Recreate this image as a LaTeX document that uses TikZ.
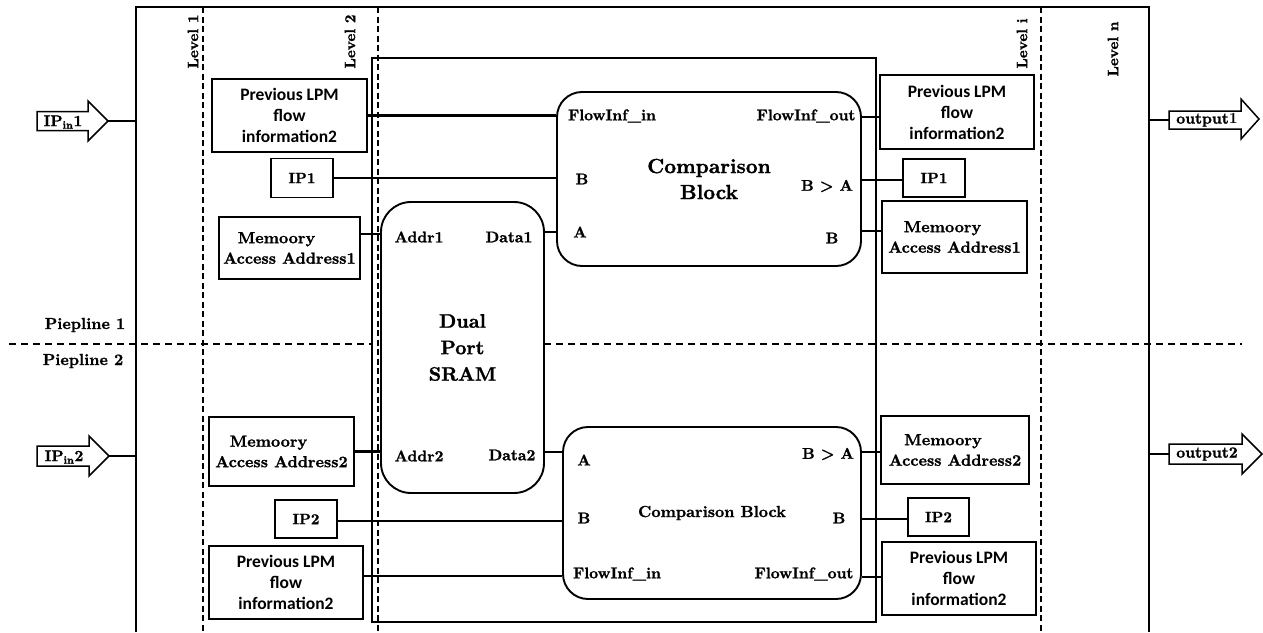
\documentclass[tikz,border=0pt]{standalone}
\usepackage{fontspec}
\newfontfamily\boxsans{Carlito}
\newfontfamily\srb{lmroman10-bold}[Extension=.otf, FakeBold=1.3]
\newfontfamily\srr{lmroman10-bold}[Extension=.otf]
\newcommand{\fsz}[2]{\fontsize{#1}{#2}\selectfont}
\begin{document}
\begin{tikzpicture}[x=1pt,y=-1pt,
  frame/.style={line width=1.4pt},
  levelline/.style={line width=2.6pt, dash pattern=on 6pt off 3.5pt},
  pipeline/.style={line width=1.3pt, dash pattern=on 7pt off 5pt},
  link/.style={line width=2.4pt},
  srbox/.style={draw, line width=1.5pt, inner sep=0pt, align=center, font=\srb\fsz{16}{20.5}},
  ipbox/.style={draw, line width=1.5pt, inner sep=0pt, align=center, font=\srb\fsz{15}{18}},
  sfbox/.style={draw, line width=1.5pt, inner sep=0pt, align=center, font=\boxsans\bfseries\fsz{17.5}{21}},
  blockbox/.style={draw, line width=1.9pt, rounded corners=25pt, inner sep=0pt, align=center},
  lab/.style={font=\srb\fsz{15.5}{19}, inner sep=0pt},
  levellab/.style={font=\srb\fsz{15}{18}, rotate=90, inner sep=0pt},
  bigarrow/.style={draw, line width=1.5pt, fill=white, line join=miter},
]
\useasboundingbox (0,0) rectangle (1263,632);

% outer frame (open at the bottom)
\draw[frame] (136,632) -- (136,7) -- (1149,7) -- (1149,632);
\coordinate (fl) at (136,7);
\coordinate (fr) at (1149,7);

% level separators
\draw[levelline] (203,7) -- (203,632);
\draw[levelline] (378,7) -- (378,632);
\draw[levelline] (1041,7) -- (1041,632);
\node[levellab] (lv1) at (193,41.5) {Level 1};
\node[levellab] (lv2) at (350,41.5) {Level 2};
\node[levellab] (lvi) at (1022,43.5) {Level i};
\node[levellab] (lvn) at (1113,49) {Level n};

% pipeline separator
\draw[pipeline] (9,344) -- (372,344);
\draw[pipeline] (544,344) -- (1242,344);
\node[lab, font=\srb\fsz{16}{19}] (pp1) at (85,325) {Piepline 1};
\node[lab, font=\srb\fsz{16}{19}] (pp2) at (83,361) {Piepline 2};

% stage container
\node[draw, frame, minimum width=504pt, minimum height=564pt, inner sep=0pt] (stage) at (624,340) {};

% dual port memory
\node[blockbox, rounded corners=30pt, minimum width=163pt, minimum height=291pt, fill=white,
      font=\srb\fsz{19.5}{26.5}] (sram) at (462.5,347.5) {Dual\\Port\\SRAM};
\node[lab] (addr1) at (419,237) {Addr1};
\node[lab] (data1) at (509,237) {Data1};
\node[lab] (addr2) at (419,456) {Addr2};
\node[lab] (data2) at (512,455) {Data2};

% comparison blocks
\node[blockbox, minimum width=304pt, minimum height=174pt,
      font=\srb\fsz{20.5}{26}] (cb1) at (709,179) {Comparison\\Block};
\node[lab] (c1fi) at (612,116) {FlowInf\_in};
\node[lab] (c1b) at (582,179) {B};
\node[lab] (c1a) at (580,232) {A};
\node[lab] (c1fo) at (806,116) {FlowInf\_out};
\node[lab] (c1g) at (827,186) {B > A};
\node[lab] (c1bo) at (832,238) {B};

\node[blockbox, minimum width=298pt, minimum height=172pt,
      font=\srb\fsz{16}{20}] (cb2) at (712,513) {Comparison Block};
\node[lab] (c2a) at (584,460) {A};
\node[lab] (c2b) at (584,518) {B};
\node[lab] (c2fi) at (617,574) {FlowInf\_in};
\node[lab] (c2g) at (828,454) {B > A};
\node[lab] (c2bo) at (839,518) {B};
\node[lab] (c2fo) at (804,574) {FlowInf\_out};

% input side boxes
\node[sfbox, minimum width=155pt, minimum height=73pt] (lp1) at (289.5,115.5) {Previous LPM\\flow\\information2};
\node[ipbox, minimum width=62pt, minimum height=39pt] (ip1l) at (302,178) {IP1};
\node[srbox, minimum width=141pt, minimum height=62pt] (mem1l) at (289.5,248) {Memoory\rule{26pt}{0pt}\\Access Address1};
\node[srbox, minimum width=145pt, minimum height=69pt] (mem2l) at (281.5,451.5) {Memoory\rule{26pt}{0pt}\\Access Address2};
\node[ipbox, minimum width=62pt, minimum height=38pt] (ip2l) at (306,519) {IP2};
\node[sfbox, minimum width=154pt, minimum height=73pt] (lp2) at (286,582.5) {Previous LPM\\flow\\information2};

% output side boxes
\node[sfbox, minimum width=154pt, minimum height=74pt] (rp1) at (957,112) {Previous LPM\\flow\\information2};
\node[ipbox, minimum width=62pt, minimum height=38pt] (ip1r) at (934,178) {IP1};
\node[srbox, minimum width=145pt, minimum height=72pt] (mem1r) at (954.5,237) {Memoory\rule{24pt}{0pt}\\Access Address1};
\node[srbox, minimum width=148pt, minimum height=68pt] (mem2r) at (955,450) {Memoory\rule{24pt}{0pt}\\Access Address2};
\node[ipbox, minimum width=61pt, minimum height=38pt] (ip2r) at (938.5,517) {IP2};
\node[sfbox, minimum width=154pt, minimum height=73pt] (rp2) at (959,578.5) {Previous LPM\\flow\\information2};

% links into the comparison blocks
\draw[link] (lp1.east) -- (lp1.east -| cb1.west);
\draw[link] (ip1l.east) -- (ip1l.east -| cb1.west);
\draw[link] ([yshift=14pt]mem1l.east) -- ([yshift=14pt]mem1l.east -| sram.west);
\draw[link] ([yshift=115.5pt]sram.east) -- ([yshift=115.5pt]sram.east -| cb1.west);
\draw[link] (mem2l.east) -- (mem2l.east -| sram.west);
\draw[link] ([yshift=-104.5pt]sram.east) -- ([yshift=-104.5pt]sram.east -| cb2.west);
\draw[link] ([yshift=-2pt]ip2l.east) -- ([yshift=-2pt]ip2l.east -| cb2.west);
\draw[link] ([yshift=6.5pt]lp2.east) -- ([yshift=6.5pt]lp2.east -| cb2.west);

% links out of the comparison blocks
\draw[link] ([yshift=-5pt]rp1.west) -- ([yshift=-5pt]rp1.west -| cb1.east);
\draw[link] ([yshift=-2pt]ip1r.west) -- ([yshift=-2pt]ip1r.west -| cb1.east);
\draw[link] ([yshift=6pt]mem1r.west) -- ([yshift=6pt]mem1r.west -| cb1.east);
\draw[link] ([yshift=-2pt]mem2r.west) -- ([yshift=-2pt]mem2r.west -| cb2.east);
\draw[link] ([yshift=-2pt]ip2r.west) -- ([yshift=-2pt]ip2r.west -| cb2.east);
\draw[link] ([yshift=1.5pt]rp2.west) -- ([yshift=1.5pt]rp2.west -| cb2.east);

% input arrows
\draw[bigarrow] (37,111.5) -- (88,111.5) -- (88,101) -- (108,121) -- (88,141) -- (88,130.5) -- (37,130.5) -- cycle;
\coordinate (in1tip) at (108,121);
\node[lab] (in1) at (63,122) {IP\textsubscript{in}1};
\draw[link] (in1tip) -- (in1tip -| fl);

\draw[bigarrow] (37,446) -- (89,446) -- (89,436) -- (109,456) -- (89,476) -- (89,466) -- (37,466) -- cycle;
\coordinate (in2tip) at (109,456);
\node[lab] (in2) at (64,457) {IP\textsubscript{in}2};
\draw[link] (in2tip) -- (in2tip -| fl);

% output arrows
\draw[bigarrow] (1169,111) -- (1241,111) -- (1241,99) -- (1259,119) -- (1241,139) -- (1241,129) -- (1169,129) -- cycle;
\coordinate (out1tail) at (1169,120);
\node[lab] (out1) at (1207,120) {output{\srr 1}};
\draw[link] (out1tail) -- (out1tail -| fr);

\draw[bigarrow] (1169,444) -- (1242,444) -- (1242,434) -- (1262,454) -- (1242,474) -- (1242,464) -- (1169,464) -- cycle;
\coordinate (out2tail) at (1169,454);
\node[lab] (out2) at (1207,454) {output2};
\draw[link] (out2tail) -- (out2tail -| fr);
\end{tikzpicture}
\end{document}
